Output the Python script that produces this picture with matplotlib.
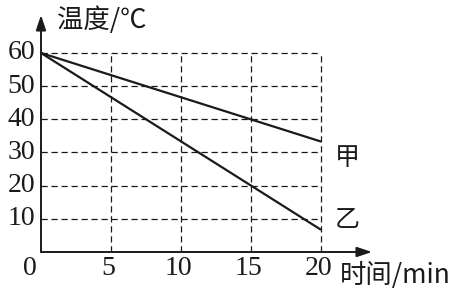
import matplotlib.pyplot as plt

# 数据
time_min = [0, 20]
temp_jia = [60, 33.3]
temp_yi = [60, 6.7]
x_ticks = [5, 10, 15, 20]
y_ticks = [10, 20, 30, 40, 50, 60]

W, H = 459, 290
fig = plt.figure(figsize=(W / 100, H / 100), dpi=100)
# 原点约在像素 (41, 252)，箭头到 x=372, y=15
ax = fig.add_axes([41 / W, 1 - 252 / H, (372 - 41) / W, (252 - 15) / H])
ax.set_xlim(0, (372 - 41) / 14.0)
ax.set_ylim(0, (252 - 15) / 3.317)

for s in ax.spines.values():
    s.set_visible(False)
ax.set_xticks([])
ax.set_yticks([])

ink = '#1a1a1a'
serif = 'Liberation Serif'
cjk = ['Noto Sans CJK SC', 'DejaVu Sans']

# 虚线网格
ax.hlines(y_ticks, 0, 20, colors=ink, linestyles=(0, (5, 3)), lw=0.9)
ax.vlines(x_ticks, 0, 60, colors=ink, linestyles=(0, (5, 3)), lw=0.9)

# 坐标轴和箭头
ax.annotate('', xy=(1, 0), xytext=(0, 0), xycoords='axes fraction',
            arrowprops=dict(arrowstyle='-|>,head_length=0.9,head_width=0.3', color=ink, lw=1.4, shrinkA=0, shrinkB=0))
ax.annotate('', xy=(0, 1), xytext=(0, 0), xycoords='axes fraction',
            arrowprops=dict(arrowstyle='-|>,head_length=0.9,head_width=0.3', color=ink, lw=1.4, shrinkA=0, shrinkB=0))

# 两条线
ax.plot(time_min, temp_jia, color=ink, lw=1.6, solid_capstyle='butt')
ax.plot(time_min, temp_yi, color=ink, lw=1.6, solid_capstyle='butt')

# 刻度标签
for v in y_ticks:
    ax.text(-0.4, v, str(v), ha='right', va='center', fontsize=20, family=serif, color=ink)
ax.text(-0.3, -1.3, '0', ha='right', va='top', fontsize=20, family=serif, color=ink)
for v in x_ticks:
    ax.text(v - 0.2, -1.3, str(v), ha='center', va='top', fontsize=20, family=serif, color=ink)

# 曲线标注
ax.text(21.0, 28.3, '甲', ha='left', va='center', fontsize=18, family=cjk, color=ink)
ax.text(21.0, 9.6, '乙', ha='left', va='center', fontsize=18, family=cjk, color=ink)

# 坐标轴标题
fig.text(57 / W, 1 - 20 / H, '温度/℃', ha='left', va='center', fontsize=19, family=cjk, color=ink)
fig.text(340 / W, 1 - 275 / H, '时间/min', ha='left', va='center', fontsize=19, family=cjk, color=ink)

fig.savefig('out.png', dpi=100, facecolor='white')
